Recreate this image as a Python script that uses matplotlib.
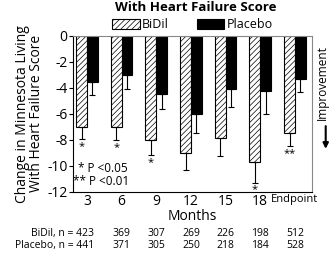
import numpy as np
import matplotlib.pyplot as plt

plt.rcParams['font.family'] = ['Open Sans', 'DejaVu Sans']
plt.rcParams['hatch.linewidth'] = 0.5

# data
groups = ["3", "6", "9", "12", "15", "18", "Endpoint"]
bidil = [-7.0, -7.0, -8.05, -9.05, -7.9, -9.7, -7.5]
bidil_err = [0.95, 1.05, 1.1, 1.3, 1.35, 1.6, 1.0]
placebo = [-3.55, -3.05, -4.45, -6.05, -4.1, -4.25, -3.35]
placebo_err = [1.0, 1.05, 1.2, 1.4, 1.4, 1.8, 1.0]
stars = ["*", "*", "*", "", "", "*", "**"]
n_bidil = [423, 369, 307, 269, 226, 198, 512]
n_placebo = [441, 371, 305, 250, 218, 184, 528]

fig = plt.figure(figsize=(3.29, 2.57), dpi=100)
ax = fig.add_axes([0.222, 0.254, 0.726, 0.607])

x = np.arange(len(groups))
w = 0.31
ax.bar(x - w/2, bidil, w, color="white", edgecolor="black", hatch="//////", linewidth=0.8, label="BiDil")
ax.bar(x + w/2, placebo, w, color="black", edgecolor="black", linewidth=0.8, label="Placebo")
ax.errorbar(x - w/2, bidil, yerr=[bidil_err, [0]*7], fmt="none", ecolor="black", elinewidth=0.8, capsize=2, capthick=0.8)
ax.errorbar(x + w/2, placebo, yerr=[placebo_err, [0]*7], fmt="none", ecolor="black", elinewidth=0.8, capsize=2, capthick=0.8)

for i, s in enumerate(stars):
    if s:
        ax.text(x[i] - w/2, bidil[i] - bidil_err[i] - 0.15, s, ha="center", va="top", fontsize=8)

ax.set_xlim(-0.4, 6.49)
ax.set_ylim(-12, 0)
ax.set_yticks(range(-12, 1, 2))
ax.set_yticklabels([str(v) if v == 0 else "-" + str(-v) for v in range(-12, 1, 2)], fontsize=10)
ax.set_xticks(x)
ax.set_xticklabels(groups, fontsize=10)
ax.get_xticklabels()[-1].set_fontsize(8)
ax.tick_params(axis="x", length=0, pad=2)
ax.tick_params(axis="y", length=3, width=0.8, pad=1)
for sp in ax.spines.values():
    sp.set_linewidth(0.8)
ax.spines["top"].set_color("#888888")
ax.spines["right"].set_color("#888888")

ax.set_xlabel("Months", fontsize=10, labelpad=0)
ax.set_ylabel("Change in Minnesota Living\nWith Heart Failure Score", fontsize=10, labelpad=2, linespacing=0.9)

ax.text(-0.27, -10.18, "* P <0.05", fontsize=8.5, ha="left", va="center")
ax.text(-0.39, -11.25, "** P <0.01", fontsize=8.5, ha="left", va="center")

ax.legend(loc="lower center", bbox_to_anchor=(0.5, 0.99), ncol=2, frameon=False, fontsize=9,
          handlelength=2.2, handleheight=0.9, columnspacing=2.2, handletextpad=0.2, borderpad=0)

fig.text(0.596, 0.997, "With Heart Failure Score", ha="center", va="top", fontsize=9.5, fontweight="bold")

# improvement arrow on the right
fig.text(1.0, 0.68, "Improvement", rotation=90, ha="right", va="center", fontsize=8.5)
ax.annotate("", xy=(0.99, 0.41), xytext=(0.99, 0.52), xycoords="figure fraction",
            arrowprops=dict(arrowstyle="-|>", color="black", lw=1.5, mutation_scale=8))

# n table under the chart
fig.text(0.285, 0.093, "BiDil, n = 423", ha="right", va="center", fontsize=7.5)
fig.text(0.285, 0.043, "Placebo, n = 441", ha="right", va="center", fontsize=7.5)
for i in range(1, len(groups)):
    xf = fig.transFigure.inverted().transform(ax.transData.transform((x[i], 0)))[0]
    fig.text(xf, 0.093, str(n_bidil[i]), ha="center", va="center", fontsize=7.5)
    fig.text(xf, 0.043, str(n_placebo[i]), ha="center", va="center", fontsize=7.5)

plt.savefig("out.png", dpi=100)
